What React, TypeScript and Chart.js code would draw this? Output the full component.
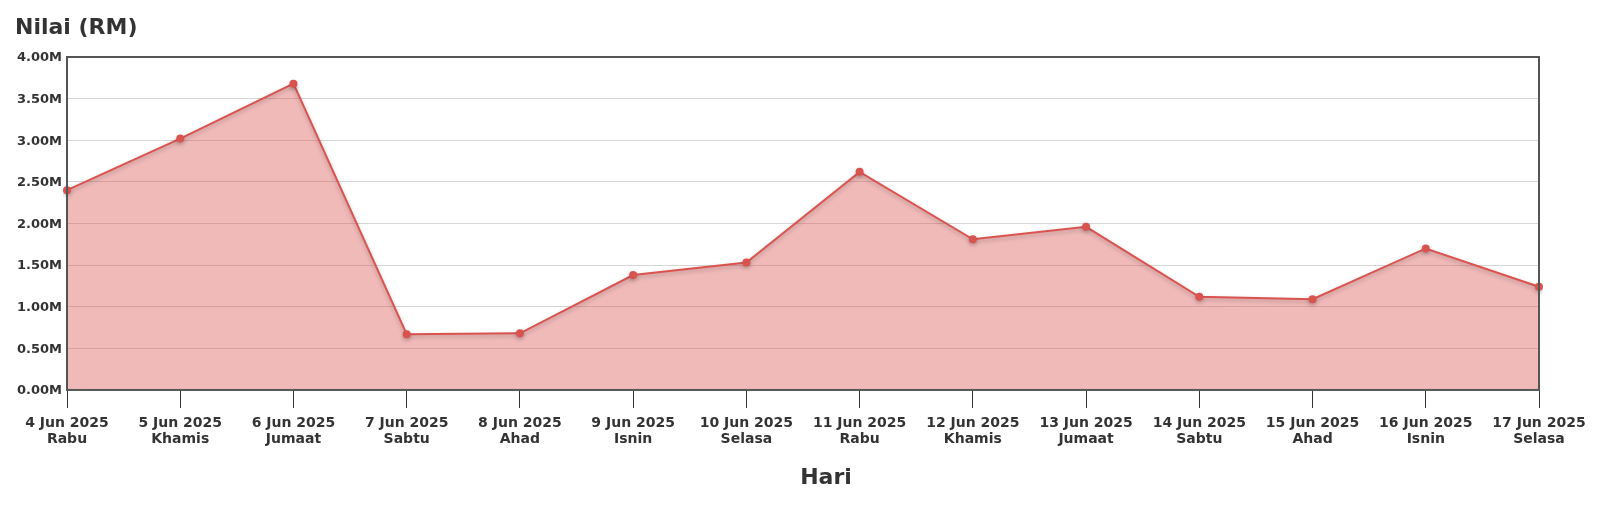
import React, { useEffect, useRef } from "react";
import { Chart, registerables } from "chart.js";

Chart.register(...registerables);

const dates = ["4 Jun 2025", "5 Jun 2025", "6 Jun 2025", "7 Jun 2025", "8 Jun 2025", "9 Jun 2025", "10 Jun 2025", "11 Jun 2025", "12 Jun 2025", "13 Jun 2025", "14 Jun 2025", "15 Jun 2025", "16 Jun 2025", "17 Jun 2025"];
const days = ["Rabu", "Khamis", "Jumaat", "Sabtu", "Ahad", "Isnin", "Selasa", "Rabu", "Khamis", "Jumaat", "Sabtu", "Ahad", "Isnin", "Selasa"];
const values = [2400000, 3020000, 3680000, 670000, 680000, 1380000, 1530000, 2620000, 1810000, 1960000, 1120000, 1090000, 1700000, 1240000];

const yTitle = "Nilai (RM)";
const xTitle = "Hari";

const FONT = "'DejaVu Sans', sans-serif";

export default function App() {
  const ref = useRef<HTMLCanvasElement | null>(null);

  useEffect(() => {
    if (!ref.current) return;
    const framePlugin = {
      id: "frame",
      afterDatasetsDraw(chart: any) {
        const { ctx, chartArea } = chart;
        ctx.save();
        ctx.strokeStyle = "#555555";
        ctx.lineWidth = 2;
        ctx.strokeRect(chartArea.left, chartArea.top, chartArea.right - chartArea.left, chartArea.bottom - chartArea.top);
        ctx.restore();
      },
    };
    const xTitlePlugin = {
      id: "xTitle",
      afterDraw(chart: any) {
        const ctx = chart.ctx;
        ctx.save();
        ctx.fillStyle = "#333333";
        ctx.font = "bold 22px " + FONT;
        ctx.textAlign = "center";
        ctx.textBaseline = "alphabetic";
        ctx.fillText(xTitle, 826, 484);
        ctx.restore();
      },
    };
    const shadowPlugin = {
      id: "lineShadow",
      beforeDatasetDraw(chart: any) {
        const ctx = chart.ctx;
        ctx.save();
        ctx.shadowColor = "rgba(0,0,0,0.25)";
        ctx.shadowBlur = 4;
        ctx.shadowOffsetY = 2;
      },
      afterDatasetDraw(chart: any) {
        chart.ctx.restore();
      },
    };
    const chart = new Chart(ref.current, {
      type: "line",
      data: {
        labels: dates.map((d, i) => [d, days[i]]),
        datasets: [
          {
            data: values,
            borderColor: "#d9534f",
            backgroundColor: "rgba(217,83,79,0.4)",
            borderWidth: 2,
            fill: "origin",
            tension: 0,
            pointRadius: 4,
            pointHoverRadius: 4,
            pointBackgroundColor: "#d9534f",
            pointBorderColor: "#d9534f",
            pointBorderWidth: 0,
          },
        ],
      },
      options: {
        animation: false,
        responsive: true,
        maintainAspectRatio: false,
        layout: { padding: { left: 15, right: 61, top: 0, bottom: 68 } },
        plugins: {
          legend: { display: false },
          tooltip: { enabled: false },
          title: {
            display: true,
            text: yTitle,
            align: "start",
            color: "#333333",
            font: { family: FONT, size: 22, weight: "bold" },
            padding: { top: 15, bottom: 15.6 },
          },
        },
        scales: {
          x: {
            offset: false,
            grid: {
              display: true,
              drawOnChartArea: false,
              drawTicks: true,
              tickLength: 18,
              color: "#333333",
              lineWidth: 1,
            },
            border: { display: false },
            ticks: {
              color: "#333333",
              font: { family: FONT, size: 14, weight: "bold", lineHeight: 1.18 },
              padding: 7,
              maxRotation: 0,
              autoSkip: false,
            },
          },
          y: {
            min: 0,
            max: 4000000,
            grid: { color: "#d6d6d6", drawTicks: false, lineWidth: 1 },
            border: { display: false },
            ticks: {
              stepSize: 500000,
              color: "#333333",
              font: { family: FONT, size: 13, weight: "bold" },
              padding: 5,
              labelOffset: 1,
              callback: (v: any) => (Number(v) / 1000000).toFixed(2) + "M",
            },
            afterFit: (scale: any) => {
              scale.width = 52;
            },
          },
        },
      },
      plugins: [shadowPlugin, framePlugin, xTitlePlugin],
    } as any);
    return () => chart.destroy();
  }, []);

  return (
    <div style={{ position: "absolute", left: 0, top: 0, width: 1600, height: 523 }}>
      <canvas ref={ref} />
    </div>
  );
}
